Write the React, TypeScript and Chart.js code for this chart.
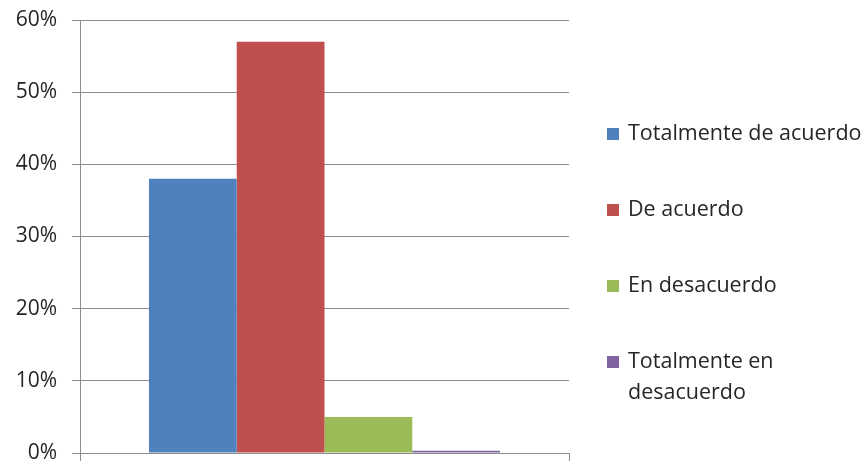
import React, { useEffect, useRef } from 'react';
import { Chart, registerables } from 'chart.js';

Chart.register(...registerables);

const categories = [''];
const seriesNames = ['Totalmente de acuerdo', 'De acuerdo', 'En desacuerdo', 'Totalmente en desacuerdo'];
const seriesValues = [0.38, 0.57, 0.05, 0.003];
const seriesColors = ['#4F81BD', '#C0504D', '#9BBB59', '#8064A2'];
const yMin = 0;
const yMax = 0.6;
const yStep = 0.1;

const FONT = '"Open Sans", "Noto Sans", sans-serif';
const TEXT_COLOR = '#262626';
const GRID_COLOR = '#8c8c8c';

function wrapText(ctx: CanvasRenderingContext2D, text: string, maxWidth: number): string[] {
  const words = text.split(' ');
  const lines: string[] = [];
  let cur = '';
  for (const w of words) {
    const test = cur ? cur + ' ' + w : w;
    if (ctx.measureText(test).width > maxWidth && cur) {
      lines.push(cur);
      cur = w;
    } else {
      cur = test;
    }
  }
  if (cur) lines.push(cur);
  return lines;
}

const sideLegend = {
  id: 'sideLegend',
  afterDraw(chart: any) {
    const ctx: CanvasRenderingContext2D = chart.ctx;
    ctx.save();
    ctx.font = `21.5px ${FONT}`;
    ctx.textBaseline = 'middle';
    ctx.textAlign = 'left';
    const boxX = 607;
    const textX = 628;
    const top = 134;
    const spacing = 76;
    const lineH = 31;
    chart.data.datasets.forEach((ds: any, i: number) => {
      const y = top + i * spacing;
      ctx.fillStyle = ds.backgroundColor;
      ctx.fillRect(boxX, y - 6, 12, 12);
      ctx.fillStyle = TEXT_COLOR;
      const lines = wrapText(ctx, ds.label, 238);
      lines.forEach((ln, j) => ctx.fillText(ln, textX, y + j * lineH));
    });
    ctx.restore();
  },
};

export default function App() {
  const ref = useRef<HTMLCanvasElement>(null);
  useEffect(() => {
    if (!ref.current) return;
    const chart = new Chart(ref.current, {
      type: 'bar',
      data: {
        labels: categories,
        datasets: seriesNames.map((name, i) => ({
          label: name,
          data: [seriesValues[i]],
          backgroundColor: seriesColors[i],
          borderWidth: 0,
          categoryPercentage: 0.718,
          barPercentage: 1.0,
        })),
      },
      options: {
        responsive: false,
        animation: false,
        layout: { padding: { top: 20, right: 298, bottom: 0, left: 0 } },
        plugins: {
          legend: { display: false },
          tooltip: { enabled: false },
          title: { display: false },
        },
        scales: {
          x: {
            type: 'category',
            offset: true,
            ticks: { display: false },
            grid: {
              display: true,
              offset: true,
              drawOnChartArea: false,
              drawTicks: true,
              tickLength: 8,
              color: GRID_COLOR,
            },
            border: { display: true, color: GRID_COLOR, width: 1 },
            afterFit: (scale: any) => {
              scale.height = 8;
              scale.paddingLeft = 0;
              scale.paddingRight = 0;
            },
          },
          y: {
            min: yMin,
            max: yMax,
            ticks: {
              stepSize: yStep,
              padding: 15,
              color: TEXT_COLOR,
              font: { family: FONT, size: 21 },
              callback: (v: any) => Math.round(Number(v) * 100) + '%',
            },
            grid: { color: GRID_COLOR, tickLength: 8, drawTicks: true },
            border: { display: true, color: GRID_COLOR, width: 1 },
            afterFit: (scale: any) => {
              scale.width = 80;
              scale.paddingTop = 0;
              scale.paddingBottom = 0;
            },
          },
        },
      },
      plugins: [sideLegend],
    });
    return () => chart.destroy();
  }, []);
  return (
    <div style={{ position: 'absolute', left: 0, top: 0, width: 867, height: 461, background: '#fff' }}>
      <canvas ref={ref} width={867} height={461} style={{ display: 'block' }} />
    </div>
  );
}
